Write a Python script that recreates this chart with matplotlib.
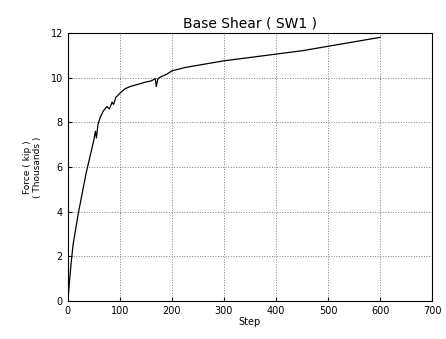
import matplotlib
matplotlib.use('Agg')
import matplotlib.pyplot as plt

# Base shear vs step
steps = [0, 3, 6, 10, 15, 20, 25, 30, 35, 40, 45, 50, 53, 55, 58, 62, 68, 75, 80, 85, 88, 92,
         100, 110, 120, 135, 150, 160, 168, 170, 173, 180, 190, 200, 225, 250, 275, 300,
         350, 400, 450, 500, 550, 600]
shear = [0.0, 0.8, 1.6, 2.5, 3.2, 3.9, 4.5, 5.1, 5.7, 6.2, 6.7, 7.2, 7.6, 7.3, 7.9, 8.2, 8.5,
         8.7, 8.6, 8.9, 8.8, 9.1, 9.3, 9.5, 9.6, 9.7, 9.8, 9.85, 9.95, 9.6, 9.95, 10.05, 10.15,
         10.3, 10.45, 10.55, 10.65, 10.75, 10.9, 11.05, 11.2, 11.4, 11.6, 11.8]

xticks = [0, 100, 200, 300, 400, 500, 600, 700]
yticks = [0, 2, 4, 6, 8, 10, 12]

fig = plt.figure(figsize=(4.46, 3.39), dpi=100)
ax = fig.add_axes([0.152, 0.112, 0.817, 0.791])

ax.plot(steps, shear, color='black', linewidth=0.9)

ax.set_xlim(0, 700)
ax.set_ylim(0, 12)
ax.set_xticks(xticks)
ax.set_yticks(yticks)
ax.tick_params(labelsize=7, direction='in', length=3)
ax.grid(True, linestyle=':', color='gray', linewidth=0.7)

ax.set_title('Base Shear ( SW1 )', fontsize=10, pad=4)
ax.set_xlabel('Step', fontsize=7, labelpad=1)
ax.set_ylabel('Force ( kip )\n( Thousands )', fontsize=6.5, labelpad=6)

fig.savefig('out.png', dpi=100)
